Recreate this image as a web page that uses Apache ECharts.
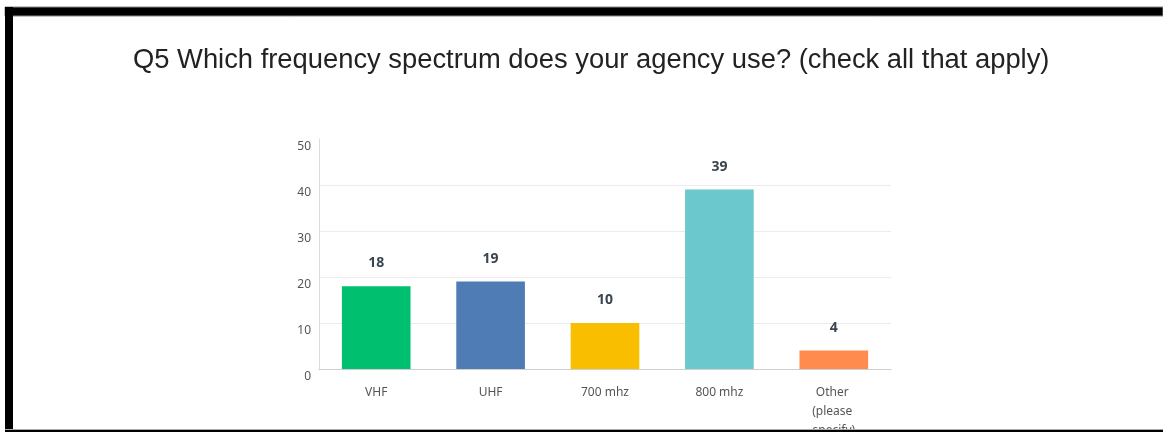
<!DOCTYPE html>
<html>
<head>
<meta charset="utf-8">
<script src="https://cdn.jsdelivr.net/npm/echarts@6/dist/echarts.min.js"></script>
<style>
  html, body { margin: 0; padding: 0; background: #fff; }
  #chart { width: 1163px; height: 432px; }
</style>
</head>
<body>
<div id="chart"></div>
<script>
// Survey answers for Q5
const categories = ['VHF', 'UHF', '700 mhz', '800 mhz', 'Other (please specify)'];
const responses = [18, 19, 10, 39, 4];
const barColors = ['#00bf6f', '#507cb6', '#f9be00', '#6bc8cd', '#ff8b4f'];
const yTicks = { min: 0, max: 50, interval: 10 };

const chart = echarts.init(document.getElementById('chart'), null, { renderer: 'canvas' });

chart.setOption({
  backgroundColor: '#fff',
  animation: false,
  title: {
    text: 'Q5 Which frequency spectrum does your agency use? (check all that apply)',
    left: 128,
    top: 42,
    textStyle: {
      fontFamily: 'Liberation Sans, Arial, sans-serif',
      fontSize: 27.35,
      fontWeight: 'normal',
      color: '#222'
    }
  },
  grid: { left: 319, right: 272, top: 139, bottom: 63, outerBoundsMode: 'none', containLabel: false },
  xAxis: {
    type: 'category',
    data: categories,
    axisLine: { show: true, lineStyle: { color: '#cfcfcf', width: 1 } },
    axisTick: { show: false },
    axisLabel: {
      margin: 14,
      interval: 0,
      width: 56,
      overflow: 'break',
      lineHeight: 19,
      fontFamily: 'Noto Sans, Open Sans, sans-serif',
      fontSize: 12,
      color: '#555'
    }
  },
  yAxis: {
    type: 'value',
    min: yTicks.min,
    max: yTicks.max,
    interval: yTicks.interval,
    axisLine: { show: true, lineStyle: { color: '#dcdcdc', width: 1 } },
    axisTick: { show: false },
    splitLine: { show: true, showMaxLine: false, lineStyle: { color: '#ececec', width: 1 } },
    axisLabel: {
      margin: 8,
      verticalAlign: 'top',
      lineHeight: 16,
      fontFamily: 'Noto Sans, Open Sans, sans-serif',
      fontSize: 12,
      color: '#555'
    }
  },
  series: [{
    type: 'bar',
    data: responses.map((v, i) => ({ value: v, itemStyle: { color: barColors[i] } })),
    barWidth: '60%',
    label: {
      show: true,
      position: 'top',
      distance: 16,
      fontFamily: 'Noto Sans, Open Sans, sans-serif',
      fontSize: 14,
      fontWeight: 'bold',
      color: '#3b4550'
    }
  }],
  graphic: [
    // frame: top and left bars, thin bottom edge
    { type: 'rect', z: 100, shape: { x: 5, y: 7, width: 1158, height: 9 }, style: { fill: '#000', stroke: '#888', lineWidth: 1 } },
    { type: 'rect', z: 100, shape: { x: 5, y: 7, width: 8, height: 425 }, style: { fill: '#000' } },
    { type: 'rect', z: 100, shape: { x: 5, y: 429, width: 1158, height: 1 }, style: { fill: '#aaa' } },
    { type: 'rect', z: 100, shape: { x: 5, y: 430, width: 1158, height: 2 }, style: { fill: '#000' } }
  ]
});
</script>
</body>
</html>
